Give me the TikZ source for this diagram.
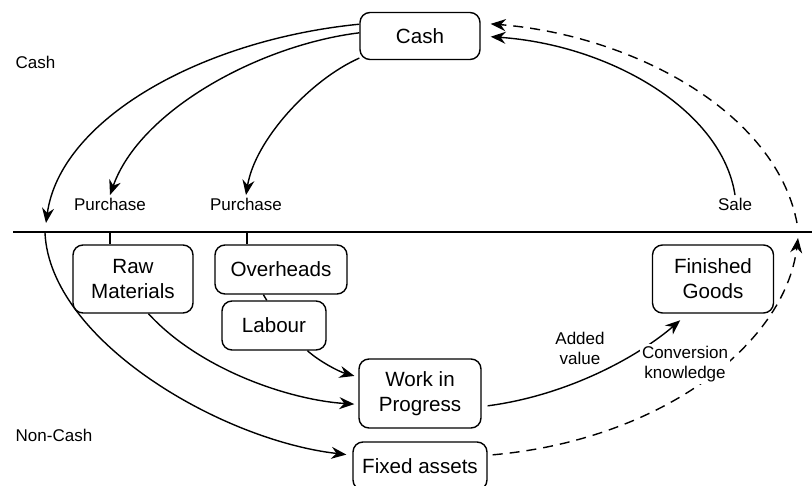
\documentclass[tikz,border=0pt]{standalone}
\usepackage{fontspec}
\setmainfont{Liberation Sans}
\usetikzlibrary{arrows.meta}
\begin{document}
\begin{tikzpicture}
		[x=0.5pt,y=-0.5pt,line width=0.7pt,
		box/.style={draw,rounded corners=5pt,align=center,inner sep=1pt,
			font=\fontsize{10.3}{12.5}\selectfont},
		lbl/.style={inner sep=1pt,align=center,
			font=\fontsize{8.5}{10}\selectfont},
		flow/.style={-{Stealth[length=7.5pt,width=6pt,inset=2.5pt]}},
		dashflow/.style={flow,dash pattern=on 5pt off 3.5pt}]
		\useasboundingbox (0,0) rectangle (812,486);
		\node[box,minimum width=60pt,minimum height=23.5pt] (cash) at (420,36) {Cash};
		\node[box,minimum width=60pt,minimum height=34pt] (raw) at (133,279) {Raw\\Materials};
		\node[box,minimum width=66pt,minimum height=24.5pt] (over) at (281,269.5) {Overheads};
		\node[box,minimum width=52pt,minimum height=24.5pt] (lab) at (274,325.5) {Labour};
		\node[box,minimum width=61pt,minimum height=34.5pt] (wip) at (420,393.5) {Work in\\Progress};
		\node[box,minimum width=67pt,minimum height=24pt] (fa) at (420,466) {Fixed assets};
		\node[box,minimum width=60.5pt,minimum height=34pt] (fg) at (713,279) {Finished\\Goods};
		\node[lbl,anchor=west] (cashlbl) at (13,62) {Cash};
		\node[lbl,anchor=west] (noncash) at (13,435) {Non-Cash};
		\node[lbl] (purch1) at (110,204) {Purchase};
		\node[lbl] (purch2) at (246,204) {Purchase};
		\node[lbl] (sale) at (735,204) {Sale};
		\node[lbl] (added) at (580,348) {Added\\value};
		\coordinate (divL) at (13,232);
		\coordinate (divR) at (812,232);
		\coordinate (cashdown) at (46,223);
		\coordinate (noncashtop) at (45,233);
		\coordinate (rawin) at (110,232);
		\coordinate (overin) at (247,232);
		\coordinate (dashlow) at (798,238);
		\coordinate (dashhigh) at (797,223);
		\draw (divL) -- (divR);
		\draw[flow] (cash.169) .. controls (200,40) and (60,120) .. (cashdown);
		\draw[flow] (cash.177) .. controls (260,45) and (140,110) .. (purch1.north);
		\draw[flow] (cash.200) .. controls (310,80) and (255,140) .. (purch2.north);
		\draw[flow,shorten >=5pt] (sale.north) .. controls (722,110) and (610,45) .. (cash.east);
		\draw[dashflow,shorten >=5pt] (dashhigh) .. controls (775,110) and (630,35) .. (cash.12);
		\draw (rawin) -- (rawin |- raw.north);
		\draw (overin) -- (overin |- over.north);
		\draw (over.235) -- (lab.106);
		\draw[flow,shorten >=3pt] (noncashtop) .. controls (50,340) and (220,440) .. (fa.171);
		\draw[flow,shorten >=2pt] (raw.294) .. controls (200,370) and (290,400) .. (wip.190);
		\draw[flow,shorten >=2pt] (lab.323) .. controls (320,362) and (340,372) .. (wip.165);
		\draw[flow,shorten <=3pt,shorten >=5pt] (wip.348) .. controls (570,395) and (640,355) .. (fg.234);
		\draw[dashflow,shorten <=2.5pt] (fa.9) .. controls (660,440) and (785,345) .. (dashlow);
		\node[lbl,fill=white] (conv) at (685,364) {Conversion\\knowledge};
\end{tikzpicture}
\end{document}
